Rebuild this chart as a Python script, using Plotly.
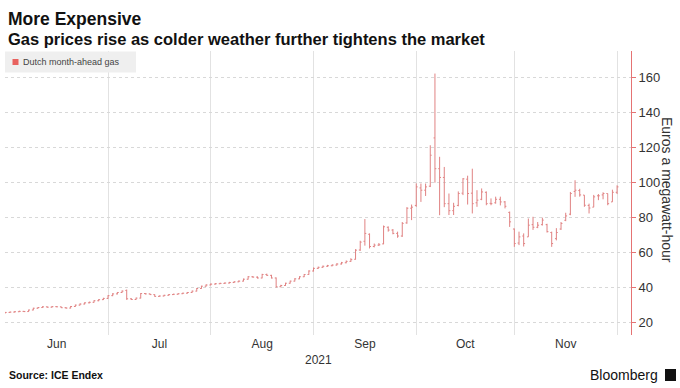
import pandas as pd
import plotly.graph_objects as go

# ---- data: Dutch TTF month-ahead gas, EUR/MWh, daily OHLC (trading days) ----
dates = pd.bdate_range("2021-06-01", "2021-12-01")

open_ = [
    25.5, 25.8, 26.0, 26.2, 26.4, 26.3, 27.2, 28.2, 28.6, 29.0, 28.8, 29.1, 29.0, 28.5, 28.3, 29.2, 30.0, 30.6, 31.3, 31.6, 32.5, 33.1,
    33.8, 35.4, 36.4, 37.2, 38.4, 33.6, 33.2, 34.0, 36.6, 36.4, 36.0, 35.0, 35.2, 35.6, 36.0, 36.2, 36.5, 36.8, 37.2, 38.0, 39.5, 40.8,
    41.5, 42.0, 42.2, 42.4, 42.6, 42.9, 43.3, 43.7, 44.8, 46.2, 46.0, 45.5, 47.5, 47.0, 45.5, 40.5, 41.2, 42.5, 43.7, 45.0, 46.2, 47.5,
    49.5, 51.0, 51.6, 52.2, 52.5, 52.9, 53.5, 54.2, 55.0, 56.2, 61.5, 66.5, 70.5, 63.5, 64.3, 65.0, 74.5, 72.9, 71.0, 69.5, 77.0, 85.4,
    87.0, 97.0, 95.7, 98.0, 125.6, 108.0, 103.0, 88.0, 84.0, 87.0, 94.0, 102.0, 94.0, 88.5, 90.5, 94.5, 88.2, 88.5, 90.5, 89.0, 83.0,
    73.5, 65.5, 69.5, 69.0, 76.0, 74.5, 76.0, 76.0, 71.5, 68.0, 73.5, 78.5, 82.0, 95.0, 95.5, 92.9, 87.0, 86.0, 92.5, 93.0, 93.8, 89.0,
    94.5,
]
high = [
    26.1, 26.3, 26.5, 26.8, 26.7, 27.4, 28.5, 28.9, 29.4, 29.2, 29.5, 29.4, 29.1, 28.8, 29.5, 30.3, 31.0, 31.6, 32.0, 32.8, 33.4, 34.2,
    35.7, 36.8, 37.5, 38.4, 38.9, 33.9, 34.3, 36.9, 36.9, 36.6, 36.2, 35.5, 35.9, 36.3, 36.5, 36.8, 37.1, 37.5, 38.3, 39.8, 41.1, 41.9,
    42.4, 42.6, 42.8, 43.0, 43.3, 43.7, 44.1, 45.2, 46.6, 46.6, 46.4, 47.9, 48.0, 47.3, 45.8, 41.6, 42.8, 44.0, 45.4, 46.5, 47.8, 49.9,
    51.5, 52.0, 52.6, 53.0, 53.3, 54.0, 54.7, 55.5, 56.8, 62.0, 66.8, 79.2, 71.0, 65.2, 65.5, 75.5, 75.0, 73.5, 72.0, 77.5, 86.0, 87.5,
    99.6, 99.5, 99.5, 121.4, 162.4, 114.8, 109.0, 93.8, 88.5, 95.0, 102.6, 104.0, 108.0, 95.7, 96.7, 95.0, 91.0, 92.0, 92.0, 89.5, 83.5,
    73.8, 72.0, 71.0, 79.5, 80.5, 77.5, 80.0, 76.5, 72.0, 74.0, 77.5, 82.8, 94.7, 101.4, 96.5, 92.9, 88.0, 93.0, 93.5, 94.5, 93.8, 96.0,
    98.5,
]
low = [
    25.3, 25.6, 25.8, 26.0, 26.0, 26.1, 27.0, 28.0, 28.4, 28.5, 28.6, 28.8, 28.3, 28.0, 28.1, 29.0, 29.8, 30.4, 31.0, 31.4, 32.2, 32.9,
    33.6, 35.1, 36.1, 37.0, 33.0, 32.9, 33.0, 33.8, 36.1, 35.8, 34.8, 34.8, 35.0, 35.4, 35.8, 36.0, 36.3, 36.6, 37.0, 37.8, 39.3, 40.6,
    41.3, 41.8, 42.0, 42.2, 42.4, 42.7, 43.1, 43.5, 44.6, 45.7, 45.2, 45.3, 46.7, 45.2, 40.0, 40.2, 41.0, 42.3, 43.5, 44.8, 46.0, 47.3,
    49.2, 50.7, 51.3, 51.9, 52.2, 52.6, 53.2, 53.9, 54.7, 56.0, 61.0, 64.0, 62.4, 63.0, 63.8, 64.8, 72.0, 70.5, 68.5, 69.0, 76.5, 78.6,
    86.2, 89.0, 92.4, 97.5, 100.0, 81.4, 86.0, 81.5, 81.5, 86.5, 92.9, 87.5, 82.4, 86.2, 90.0, 87.1, 87.1, 88.0, 87.0, 85.3, 74.7,
    63.3, 64.3, 63.5, 69.0, 73.0, 74.0, 75.5, 71.5, 63.3, 67.0, 73.0, 78.0, 81.4, 91.9, 92.0, 86.2, 82.4, 86.0, 90.0, 90.5, 87.1, 89.0,
    93.5,
]
close = [
    25.8, 26.0, 26.2, 26.4, 26.3, 27.2, 28.2, 28.6, 29.0, 28.8, 29.1, 29.0, 28.5, 28.3, 29.2, 30.0, 30.6, 31.3, 31.6, 32.5, 33.1, 33.8,
    35.4, 36.4, 37.2, 38.0, 33.6, 33.2, 34.0, 36.6, 36.4, 36.0, 35.0, 35.2, 35.6, 36.0, 36.2, 36.5, 36.8, 37.2, 38.0, 39.5, 40.8, 41.5,
    42.0, 42.2, 42.4, 42.6, 42.9, 43.3, 43.7, 44.8, 46.2, 46.0, 45.5, 47.5, 47.0, 45.5, 40.5, 41.2, 42.5, 43.7, 45.0, 46.2, 47.5, 49.5,
    51.0, 51.6, 52.2, 52.5, 52.9, 53.5, 54.2, 55.0, 56.0, 61.4, 66.0, 71.0, 63.5, 64.3, 64.5, 74.8, 72.9, 71.0, 69.5, 76.7, 85.4, 86.0,
    97.6, 95.7, 97.6, 115.7, 108.0, 103.0, 88.0, 84.0, 86.5, 93.8, 102.2, 93.8, 88.0, 90.0, 94.7, 88.0, 88.0, 90.5, 89.0, 86.5, 77.6,
    65.2, 69.0, 65.2, 75.7, 74.5, 75.7, 78.6, 72.0, 65.2, 71.5, 76.7, 81.0, 93.8, 95.7, 93.0, 87.1, 85.5, 91.9, 92.5, 93.8, 88.0, 94.5,
    97.6,
]
y_ticks = [20, 40, 60, 80, 100, 120, 140, 160]
series_name = "Dutch month-ahead gas"

# ---- styling ----
BAR = "#e08282"
AXIS_RED = "#e57373"
FONT = "Liberation Sans, Arial, sans-serif"

W, H = 680, 388
L, R, T, B = 5, 49, 51, 53
PW, PH = W - L - R, H - T - B


def px_x(px):
    return (px - L) / PW


def px_y(py):
    return (H - B - py) / PH


n = len(dates)
pos = list(range(n))  # trading-day axis (no weekend gaps)
month_starts = [i for i in range(n) if i == 0 or dates[i].month != dates[i - 1].month]
label_pos = [(a + b) / 2 for a, b in zip(month_starts[:-1], month_starts[1:])]
label_txt = [dates[a].strftime("%b") for a in month_starts[:-1]]

fig = go.Figure(
    go.Ohlc(
        x=pos,
        open=open_, high=high, low=low, close=close,
        increasing=dict(line=dict(color=BAR, width=1)),
        decreasing=dict(line=dict(color=BAR, width=1)),
        tickwidth=0.3,
        hovertext=[d.strftime("%d %b %Y") for d in dates],
        name=series_name,
        showlegend=False,
    )
)

fig.update_layout(
    width=W, height=H,
    margin=dict(l=L, r=R, t=T, b=B),
    paper_bgcolor="white", plot_bgcolor="white",
    font=dict(family=FONT, color="#333333"),
    showlegend=False,
)

fig.update_xaxes(
    range=[-0.06, 133.98],
    tickmode="array", tickvals=label_pos, ticktext=label_txt,
    showgrid=False, ticks="", zeroline=False, showline=False,
    tickfont=dict(size=12, color="#333333"),
    minor=dict(tickmode="array", tickvals=month_starts, showgrid=True,
               gridcolor="#e2e2e2", gridwidth=1, ticks=""),
    rangeslider=dict(visible=False),
    fixedrange=True,
)
fig.update_yaxes(
    side="right", range=[12.9, 175.3],
    tickmode="array", tickvals=y_ticks,
    showgrid=True, gridcolor="#d8d8d8", griddash="dot", gridwidth=1,
    showline=True, linecolor=AXIS_RED, linewidth=1,
    ticks="outside", ticklen=4, tickcolor=AXIS_RED, tickwidth=1,
    tickfont=dict(size=13, color="#333333"),
    zeroline=False, fixedrange=True,
)

# legend (drawn as a small grey box with a square swatch)
shapes = [
    dict(type="rect", xref="paper", yref="paper", layer="above",
         x0=px_x(5), x1=px_x(136), y0=px_y(72.5), y1=px_y(51.5),
         fillcolor="#efefef", line=dict(width=0)),
    dict(type="rect", xref="paper", yref="paper", layer="above",
         x0=px_x(12.5), x1=px_x(18.5), y0=px_y(65), y1=px_y(59),
         fillcolor="#e8625f", line=dict(width=0)),
    # Bloomberg logo glyph
    dict(type="rect", xref="paper", yref="paper", layer="above",
         x0=px_x(665), x1=px_x(676), y0=px_y(381), y1=px_y(369),
         fillcolor="#111111", line=dict(width=0)),
]
fig.update_layout(shapes=shapes)

annotations = [
    dict(text="<b>More Expensive</b>", x=px_x(6), y=px_y(19.5), xanchor="left", yanchor="middle",
         font=dict(size=17.5, color="#111111", family=FONT)),
    dict(text="<b>Gas prices rise as colder weather further tightens the market</b>",
         x=px_x(6), y=px_y(38.5), xanchor="left", yanchor="middle",
         font=dict(size=16.5, color="#111111", family=FONT)),
    dict(text=series_name, x=px_x(20.5), y=px_y(62), xanchor="left", yanchor="middle",
         font=dict(size=9, color="#444444", family=FONT)),
    dict(text="Euros a megawatt-hour", x=px_x(667), y=px_y(190), xanchor="center", yanchor="middle",
         textangle=90, font=dict(size=14, color="#333333", family=FONT)),
    dict(text="2021", x=0.5, y=px_y(360), xanchor="center", yanchor="middle",
         font=dict(size=12, color="#333333", family=FONT)),
    dict(text="<b>Source: ICE Endex</b>", x=px_x(7), y=px_y(375), xanchor="left", yanchor="middle",
         font=dict(size=10.5, color="#111111", family=FONT)),
    dict(text="Bloomberg", x=px_x(660), y=px_y(375), xanchor="right", yanchor="middle",
         font=dict(size=14, color="#111111", family=FONT)),
]
for a in annotations:
    a.update(xref="paper", yref="paper", showarrow=False)
fig.update_layout(annotations=annotations)

fig.write_html(
    "out.html",
    config={"displayModeBar": False},
    post_script="document.body.style.margin='0px';document.body.style.overflow='hidden';",
)
